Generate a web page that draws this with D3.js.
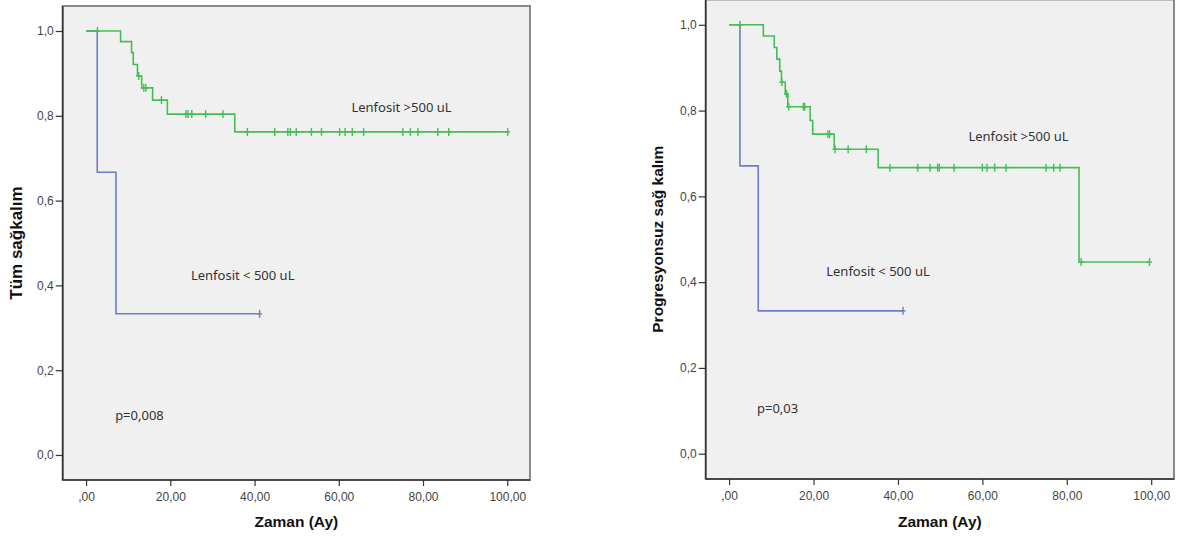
<!DOCTYPE html>
<meta charset="utf-8">
<head>
<script src="https://d3js.org/d3.v7.min.js"></script>
</head>
<style>
    body { margin: 0; background: #fff; }
    .tick text { font-family: 'Liberation Sans', Arial, sans-serif; font-size: 12px; fill: #444; }
    .tick line { stroke: #333; stroke-width: 1.2; }
    .title { font-family: 'Liberation Sans', Arial, sans-serif; font-weight: bold; fill: #111; }
    .note { font-family: 'Noto Sans', 'Open Sans', sans-serif; font-size: 13px; fill: #333; }
    .frame { fill: #f0f0f0; stroke: #8a8a8a; stroke-width: 2; }
</style>
<svg width="1182" height="539"></svg>
<script>
    // axis ticks
    var xTicks = [0, 20, 40, 60, 80, 100];
    var yTicks = [0, 0.2, 0.4, 0.6, 0.8, 1.0];

    // Tüm sağkalım (left)
    var osHighTimes = [0, 8.2, 10.8, 11.2, 12.2, 13.2, 15.8, 19.3, 35.3, 100.1];
    var osHighSurv = [1.0, 0.975, 0.949, 0.921, 0.894, 0.866, 0.837, 0.804, 0.762, 0.762];
    var osHighCensor = [2.7, 12.5, 13.7, 14.2, 17.9, 23.7, 24.2, 25.1, 28.4, 32.5, 38.3, 44.8, 47.9, 48.5, 49.9,
        53.5, 55.9, 60.2, 61.5, 63.2, 65.9, 75.2, 77.0, 78.8, 83.5, 86.1, 100.1];
    var osLowTimes = [0, 2.65, 7.1, 41.2];
    var osLowSurv = [1.0, 0.667, 0.333, 0.333];
    var osLowCensor = [41.2];

    // Progresyonsuz sağ kalım (right)
    var pfsHighTimes = [0, 8.1, 10.7, 11.3, 12.0, 12.4, 13.3, 13.9, 19.2, 19.8, 24.9, 35.3, 82.9, 99.6];
    var pfsHighSurv = [1.0, 0.974, 0.947, 0.920, 0.892, 0.866, 0.839, 0.809, 0.777, 0.745, 0.710, 0.667, 0.447, 0.447];
    var pfsHighCensor = [2.56, 12.5, 13.6, 14.1, 17.6, 17.9, 23.4, 23.8, 25.1, 28.2, 32.5, 38.1, 44.7, 47.6, 49.4,
        49.8, 53.3, 60.0, 61.1, 62.9, 65.6, 75.1, 76.9, 78.4, 83.4, 99.6];
    var pfsLowTimes = [0, 2.56, 6.9, 41.2];
    var pfsLowSurv = [1.0, 0.671, 0.333, 0.333];
    var pfsLowCensor = [41.2];

    var green = "#45bf55", blue = "#6b7ec6";
    var svg = d3.select("svg");

    var fmtY = function(d) { return d3.format(".1f")(d).replace(".", ","); };
    var fmtX = function(d) { return d3.format(".2f")(d).replace(".", ",").replace(/^0,/, ","); };

    function zip(times, surv) {
        return times.map(function(t, i) { return [t, surv[i]]; });
    }
    function survAt(times, surv, t) {
        var i = d3.bisectRight(times, t) - 1;
        return surv[Math.max(0, i)];
    }

    function panel(p) {
        var x = d3.scaleLinear().domain([-5.55, 105.4]).range([p.left, p.right]);
        var y = d3.scaleLinear().domain([-0.059, 1.059]).range([p.bottom, p.top]);
        var g = svg.append("g");

        g.append("rect").attr("class", "frame")
            .attr("x", p.left).attr("y", p.top)
            .attr("width", p.right - p.left).attr("height", p.bottom - p.top);
        g.append("line").attr("x1", p.left).attr("x2", p.left).attr("y1", p.top).attr("y2", p.bottom)
            .attr("stroke", "#333").attr("stroke-width", 1.5);
        g.append("line").attr("x1", p.left).attr("x2", p.right).attr("y1", p.bottom).attr("y2", p.bottom)
            .attr("stroke", "#333").attr("stroke-width", 1.5);

        var ax = g.append("g").attr("transform", "translate(0," + p.bottom + ")")
            .call(d3.axisBottom(x).tickValues(xTicks).tickSize(6).tickPadding(6).tickFormat(fmtX));
        ax.select(".domain").remove();
        var ay = g.append("g").attr("transform", "translate(" + p.left + ",0)")
            .call(d3.axisLeft(y).tickValues(yTicks).tickSize(7).tickPadding(2).tickFormat(fmtY));
        ay.select(".domain").remove();

        var line = d3.line().curve(d3.curveStepAfter)
            .x(function(d) { return x(d[0]); })
            .y(function(d) { return y(d[1]); });

        // blue first so green sits on top, as in the original
        p.series.forEach(function(s) {
            g.append("path").datum(zip(s.times, s.surv))
                .attr("fill", "none").attr("stroke", s.color).attr("stroke-width", 1.6)
                .attr("d", line);
            var c = g.append("g").selectAll("g").data(s.censor).enter().append("g")
                .attr("transform", function(t) {
                    return "translate(" + x(t) + "," + y(survAt(s.times, s.surv, t)) + ")";
                })
                .attr("stroke", s.color).attr("stroke-width", 1.4);
            c.append("line").attr("y1", -4).attr("y2", 4);
            c.append("line").attr("x1", -2.5).attr("x2", 2.5);
        });

        g.append("text").attr("class", "title").attr("font-size", "15.5px")
            .attr("text-anchor", "middle")
            .attr("x", (p.left + p.right) / 2).attr("y", 527)
            .text("Zaman (Ay)");
        g.append("text").attr("class", "title").attr("font-size", p.ySize)
            .attr("text-anchor", "middle")
            .attr("transform", "translate(" + p.yTitleX + "," + (p.top + p.bottom) / 2 + ") rotate(-90)")
            .text(p.yTitle);

        p.notes.forEach(function(n) {
            g.append("text").attr("class", "note")
                .attr("x", x(n.t)).attr("y", y(n.v)).attr("dy", "0.35em")
                .text(n.text);
        });
    }

    panel({
        left: 62.7, right: 530, top: 6, bottom: 480,
        yTitle: "Tüm sağkalım", yTitleX: 22, ySize: "17px",
        series: [
            { times: osLowTimes, surv: osLowSurv, censor: osLowCensor, color: blue },
            { times: osHighTimes, surv: osHighSurv, censor: osHighCensor, color: green }
        ],
        notes: [
            { t: 63, v: 0.819, text: "Lenfosit >500 uL" },
            { t: 24.9, v: 0.423, text: "Lenfosit < 500 uL" },
            { t: 6.9, v: 0.093, text: "p=0,008" }
        ]
    });

    panel({
        left: 705.7, right: 1174, top: -0.5, bottom: 479,
        yTitle: "Progresyonsuz sağ kalım", yTitleX: 663, ySize: "15.5px",
        series: [
            { times: pfsLowTimes, surv: pfsLowSurv, censor: pfsLowCensor, color: blue },
            { times: pfsHighTimes, surv: pfsHighSurv, censor: pfsHighCensor, color: green }
        ],
        notes: [
            { t: 56.7, v: 0.74, text: "Lenfosit >500 uL" },
            { t: 23.0, v: 0.426, text: "Lenfosit < 500 uL" },
            { t: 6.6, v: 0.106, text: "p=0,03" }
        ]
    });
</script>
